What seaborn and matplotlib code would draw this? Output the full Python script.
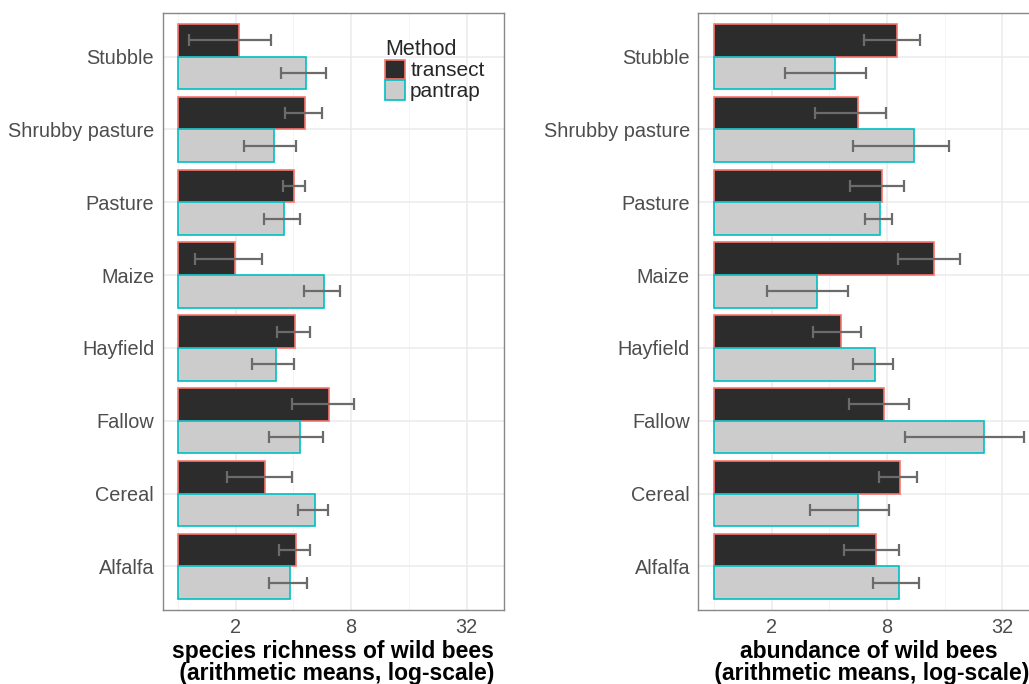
import numpy as np
import pandas as pd
import matplotlib
matplotlib.use('Agg')
import matplotlib.pyplot as plt
import seaborn as sns
from matplotlib.ticker import FixedLocator, FixedFormatter

# 数据：每个生境、两种方法的算术均值及误差
habitats = ['Stubble', 'Shrubby pasture', 'Pasture', 'Maize', 'Hayfield', 'Fallow', 'Cereal', 'Alfalfa']
methods = ['transect', 'pantrap']

richness_transect = [2.09, 4.62, 4.05, 1.98, 4.08, 6.13, 2.85, 4.12]
richness_transect_se = [0.95, 1.00, 0.54, 0.75, 0.80, 2.20, 1.06, 0.75]
richness_pantrap = [4.66, 3.18, 3.56, 5.75, 3.24, 4.35, 5.16, 3.84]
richness_pantrap_se = [1.22, 0.96, 0.75, 1.22, 0.81, 1.37, 0.92, 0.87]

abundance_transect = [9.00, 5.65, 7.51, 14.14, 4.59, 7.72, 9.40, 6.99]
abundance_transect_se = [2.95, 2.28, 2.37, 5.00, 1.30, 2.66, 2.15, 2.23]
abundance_pantrap = [4.30, 11.12, 7.33, 3.44, 6.96, 25.8, 5.67, 9.25]
abundance_pantrap_se = [1.95, 5.80, 1.22, 1.55, 1.67, 15.9, 2.50, 2.52]

tick_values = [2, 8, 32]

fill_colors = {'transect': '#2c2c2c', 'pantrap': '#cccccc'}
edge_colors = {'transect': '#F8766D', 'pantrap': '#00BFC4'}


def draw_panel(ax, mean_t, se_t, mean_p, se_p, xlabel):
    df = pd.DataFrame({
        'habitat': habitats * 2,
        'method': ['transect'] * len(habitats) + ['pantrap'] * len(habitats),
        'mean': mean_t + mean_p,
        'se': se_t + se_p,
    })
    # ggplot 的对数轴：柱子从 1 开始，所以在 log2 空间里画
    df['log_mean'] = np.log2(df['mean'])
    sns.barplot(data=df, x='log_mean', y='habitat', hue='method', order=habitats,
                hue_order=methods, palette=fill_colors, width=0.9, saturation=1,
                errorbar=None, legend=False, ax=ax, zorder=2)

    for container, m in zip(ax.containers, methods):
        sub = df[df['method'] == m].set_index('habitat').loc[habitats]
        for p in container:
            p.set_edgecolor(edge_colors[m])
            p.set_linewidth(1.2)
        ys = [p.get_y() + p.get_height() / 2 for p in container]
        lo = np.log2(sub['mean'] - sub['se'])
        hi = np.log2(sub['mean'] + sub['se'])
        xerr = [sub['log_mean'] - lo, hi - sub['log_mean']]
        ax.errorbar(sub['log_mean'], ys, xerr=xerr, fmt='none', ecolor='#6b6b6b',
                    elinewidth=1.6, capsize=4, capthick=1.6, zorder=3)

    ax.set_xlim(-0.27, 5.65)
    ax.set_ylim(len(habitats) - 0.4, -0.6)
    ax.xaxis.set_major_locator(FixedLocator(np.log2(tick_values)))
    ax.xaxis.set_major_formatter(FixedFormatter([str(v) for v in tick_values]))
    ax.xaxis.set_minor_locator(FixedLocator([0, 2, 4]))
    ax.set_axisbelow(True)
    ax.grid(True, which='major', color='#ebebeb', linewidth=1.1)
    ax.grid(True, which='minor', axis='x', color='#f2f2f2', linewidth=0.6)
    ax.tick_params(axis='both', which='major', length=4, width=1, color='#7f7f7f',
                   labelsize=14.3, labelcolor='#4d4d4d', pad=2)
    ax.tick_params(axis='x', which='minor', length=0)
    for s in ax.spines.values():
        s.set_visible(True)
        s.set_color('#888888')
        s.set_linewidth(1)
    ax.set_ylabel('')
    ax.set_xlabel(xlabel, fontsize=16.5, fontweight='bold', color='black',
                  linespacing=0.92, labelpad=2)


def main():
    sns.set_style('white')
    plt.rcParams['font.family'] = ['Liberation Sans', 'DejaVu Sans']

    fig = plt.figure(figsize=(10.29, 6.84), dpi=100)
    W, H = 1029, 684
    bottom = 1 - 610 / H
    height = 597 / H
    width = 341.5 / W
    ax1 = fig.add_axes([162.5 / W, bottom, width, height])
    ax2 = fig.add_axes([698.3 / W, bottom, width, height])

    draw_panel(ax1, richness_transect, richness_transect_se, richness_pantrap, richness_pantrap_se,
               'species richness of wild bees\n (arithmetic means, log-scale)')
    draw_panel(ax2, abundance_transect, abundance_transect_se, abundance_pantrap, abundance_pantrap_se,
               'abundance of wild bees\n (arithmetic means, log-scale)')

    ax1.legend(ax1.containers, methods, title='Method', loc='upper left',
               bbox_to_anchor=(0.652, 0.957), frameon=False, fontsize=15, title_fontsize=15.5,
               handlelength=0.95, handleheight=1.05, labelspacing=0.0, handletextpad=0.25,
               borderaxespad=0, borderpad=0, alignment='left')

    fig.savefig('out.png', dpi=100)
    plt.close(fig)


if __name__ == '__main__':
    main()
